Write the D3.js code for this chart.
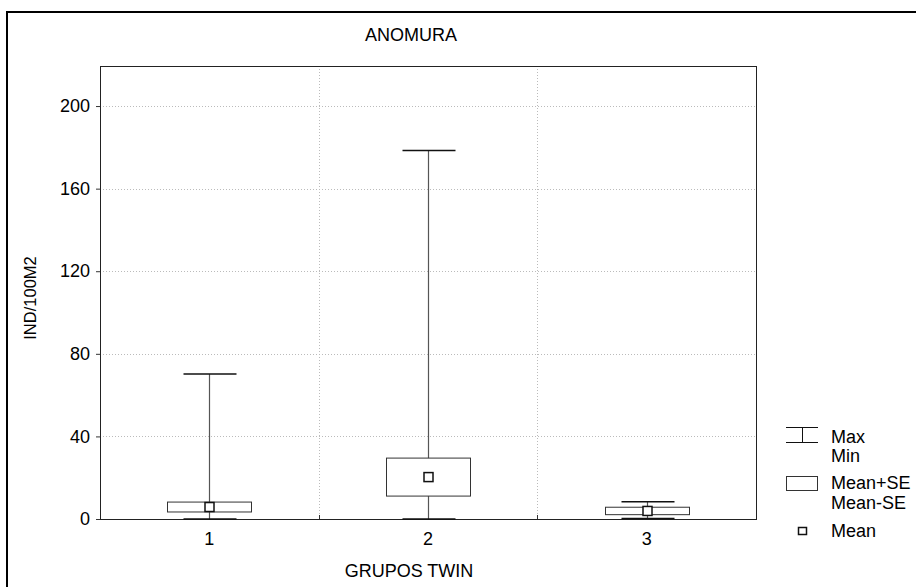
<!DOCTYPE html>
<html><head><meta charset="utf-8">
<script src="https://cdn.jsdelivr.net/npm/d3@7"></script>
<style>body{margin:0;background:#fff}svg{display:block;font-family:"Liberation Sans",Arial,sans-serif}</style>
</head><body><svg id="c" width="916" height="587"></svg>
<script>
const categories = ["1", "2", "3"];
const meanVals = [5.8, 20.3, 3.9];
const seHigh = [8.2, 29.5, 5.7];
const seLow = [3.4, 11.1, 2.1];
const maxVals = [70.2, 178.5, 8.4];
const minVals = [0, 0, 0.3];
const yTicks = [0, 40, 80, 120, 160, 200];
const title = "ANOMURA", xTitle = "GRUPOS TWIN", yTitle = "IND/100M2";

const FS = 18;
const svg = d3.select("#c");
const m = {l:100, t:66, r:756, b:519};
const x = d3.scaleBand().domain(categories).range([m.l, m.r]);
const y = d3.scaleLinear().domain([0, 219.4]).range([m.b, m.t]);

// outer frame
svg.append("rect").attr("x",7).attr("y",12).attr("width",960).attr("height",640)
  .attr("fill","none").attr("stroke","#000").attr("stroke-width",2);

// grid
const g = svg.append("g");
g.selectAll(".hg").data(yTicks.filter(d=>d>0)).join("line")
  .attr("x1",m.l).attr("x2",m.r).attr("y1",d=>Math.round(y(d))+0.5).attr("y2",d=>Math.round(y(d))+0.5)
  .attr("stroke","#bbb").attr("stroke-dasharray","1,2");
g.selectAll(".vg").data(categories.slice(1)).join("line")
  .attr("x1",d=>Math.round(x(d))+0.5).attr("x2",d=>Math.round(x(d))+0.5).attr("y1",m.t).attr("y2",m.b)
  .attr("stroke","#bbb").attr("stroke-dasharray","1,2");

// axes
const ya = svg.append("g").attr("transform",`translate(${m.l},0)`)
  .call(d3.axisLeft(y).tickValues(yTicks).tickSize(4).tickPadding(6));
ya.select(".domain").remove();
ya.selectAll("text").attr("font-size",FS).attr("fill","#000").attr("font-family","Liberation Sans, Arial");
ya.selectAll("line").attr("stroke","#333");

const xa = svg.append("g").attr("transform",`translate(0,${m.b})`)
  .call(d3.axisBottom(x).tickSize(0).tickPadding(13));
xa.select(".domain").remove();
xa.selectAll("text").attr("font-size",FS).attr("fill","#000").attr("font-family","Liberation Sans, Arial");
svg.selectAll(".bt").data(categories.slice(1)).join("line")
  .attr("x1",d=>Math.round(x(d))+0.5).attr("x2",d=>Math.round(x(d))+0.5).attr("y1",m.b).attr("y2",m.b-4)
  .attr("stroke","#333");

// plot frame
svg.append("rect").attr("x",m.l+0.5).attr("y",m.t+0.5).attr("width",m.r-m.l).attr("height",m.b-m.t)
  .attr("fill","none").attr("stroke","#222").attr("stroke-width",1);

// box plots
const cx = d => Math.round(x(d) + x.bandwidth()/2) + 0.5;
const idx = categories.map((c,i)=>i);
const bp = svg.append("g");
bp.selectAll(".wh").data(idx).join("line")
  .attr("x1",i=>cx(categories[i])).attr("x2",i=>cx(categories[i]))
  .attr("y1",i=>y(maxVals[i])).attr("y2",i=>y(minVals[i])).attr("stroke","#555").attr("stroke-width",1.2);
bp.selectAll(".cmax").data(idx).join("line")
  .attr("x1",i=>cx(categories[i])-26).attr("x2",i=>cx(categories[i])+27)
  .attr("y1",i=>y(maxVals[i])).attr("y2",i=>y(maxVals[i])).attr("stroke","#111").attr("stroke-width",1.5);
bp.selectAll(".cmin").data(idx).join("line")
  .attr("x1",i=>cx(categories[i])-26).attr("x2",i=>cx(categories[i])+27)
  .attr("y1",i=>y(minVals[i])).attr("y2",i=>y(minVals[i])).attr("stroke","#111").attr("stroke-width",1.5);
bp.selectAll(".box").data(idx).join("rect")
  .attr("x",i=>cx(categories[i])-42).attr("width",84)
  .attr("y",i=>y(seHigh[i])).attr("height",i=>y(seLow[i])-y(seHigh[i]))
  .attr("fill","#fff").attr("stroke","#333").attr("stroke-width",1);
bp.selectAll(".mean").data(idx).join("rect")
  .attr("x",i=>cx(categories[i])-4.5).attr("width",9)
  .attr("y",i=>y(meanVals[i])-4.5).attr("height",9)
  .attr("fill","#fff").attr("stroke","#111").attr("stroke-width",1.5);

// titles
const T = (t,xx,yy)=>svg.append("text").text(t).attr("x",xx).attr("y",yy)
  .attr("font-size",FS).attr("fill","#000").attr("text-anchor","middle");
T(title, 411, 41);
T(xTitle, 409, 577);
svg.append("text").text(yTitle).attr("transform","translate(36,298) rotate(-90)")
  .attr("font-size",16.5).attr("text-anchor","middle").attr("fill","#000");

// legend
const L = svg.append("g");
L.append("line").attr("x1",786).attr("x2",818).attr("y1",427.5).attr("y2",427.5).attr("stroke","#111");
L.append("line").attr("x1",786).attr("x2",818).attr("y1",442.5).attr("y2",442.5).attr("stroke","#111");
L.append("line").attr("x1",802.5).attr("x2",802.5).attr("y1",427).attr("y2",442).attr("stroke","#111");
L.append("rect").attr("x",786.5).attr("y",476.5).attr("width",31).attr("height",14).attr("fill","#fff").attr("stroke","#333");
L.append("rect").attr("x",798.5).attr("y",527.5).attr("width",8).attr("height",7).attr("fill","#fff").attr("stroke","#111").attr("stroke-width",1.5);
const lt = [["Max",443],["Min",461.5],["Mean+SE",489],["Mean-SE",509],["Mean",537]];
L.selectAll("text").data(lt).join("text").text(d=>d[0]).attr("x",831).attr("y",d=>d[1])
  .attr("font-size",FS).attr("fill","#000");
</script></body></html>
